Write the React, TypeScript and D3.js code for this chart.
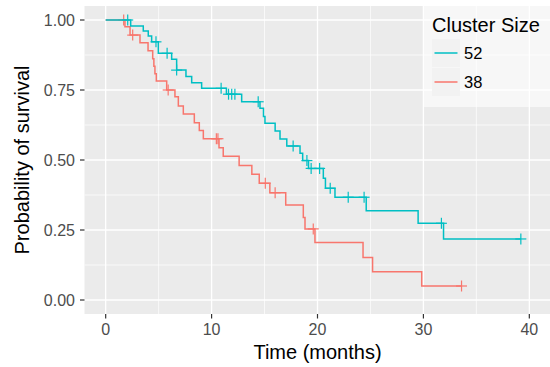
import React from "react";
import * as d3 from "d3";

// ---- data ----
const groups = ["52", "38"];
const colors = ["#00BFC4", "#F8766D"];

const tealTimes = [0, 2.36, 3.55, 4.02, 4.34, 4.97, 6.23, 6.7, 7.58, 8.12, 9.06, 11.4, 12.84, 14.57, 14.9, 15.04, 16.0, 16.46, 17.1, 18.35, 18.6, 19.15, 20.55, 20.75, 21.65, 24.6, 29.5, 31.9];
const tealSurv = [1, 0.979, 0.961, 0.943, 0.922, 0.881, 0.86, 0.821, 0.798, 0.776, 0.756, 0.735, 0.708, 0.685, 0.655, 0.631, 0.604, 0.575, 0.55, 0.524, 0.498, 0.47, 0.435, 0.399, 0.367, 0.319, 0.274, 0.218];
const tealEnd = 39.2;
const tealCensor = [2.08, 4.75, 5.8, 6.7, 10.9, 11.6, 11.9, 12.2, 14.4, 17.7, 19.0, 19.4, 20.2, 21.2, 22.9, 24.4, 31.7, 39.2];

const redTimes = [0, 1.82, 2.3, 3.24, 4.0, 4.44, 4.55, 4.65, 4.78, 5.76, 6.54, 6.86, 7.33, 8.37, 8.84, 9.22, 10.7, 11.1, 12.6, 13.8, 14.5, 15.5, 17.0, 18.66, 18.82, 19.76, 24.3, 25.2, 29.84];
const redSurv = [1, 0.976, 0.946, 0.919, 0.89, 0.862, 0.835, 0.808, 0.782, 0.75, 0.726, 0.693, 0.664, 0.633, 0.605, 0.576, 0.544, 0.513, 0.48, 0.449, 0.417, 0.383, 0.339, 0.295, 0.254, 0.205, 0.152, 0.101, 0.05];
const redEnd = 33.6;
const redCensor = [1.7, 2.55, 5.9, 10.45, 10.6, 15.07, 16.0, 19.6, 33.6];

const xTicks = [0, 10, 20, 30, 40];
const xMinor = [5, 15, 25, 35];
const yTicks = [0, 0.25, 0.5, 0.75, 1];
const yMinor = [0.125, 0.375, 0.625, 0.875];
const yTickLabels = ["0.00", "0.25", "0.50", "0.75", "1.00"];

const W = 550;
const H = 367;
const PL = 84.5, PR = 550.5, PT = 6, PB = 314;
const FONT = "'Liberation Sans', Arial, Helvetica, sans-serif";

const x = d3.scaleLinear().domain([-2, 42]).range([PL, PR]);
const y = d3.scaleLinear().domain([-0.05, 1.05]).range([PB, PT]);

type Pt = [number, number];

function stepPoints(times: number[], surv: number[], end: number): Pt[] {
  const pts: Pt[] = times.map((t, i) => [t, surv[i]] as Pt);
  pts.push([end, surv[surv.length - 1]]);
  return pts;
}

function survAt(times: number[], surv: number[], t: number): number {
  let s = surv[0];
  for (let i = 0; i < times.length; i++) {
    if (times[i] <= t + 1e-9) s = surv[i];
  }
  return s;
}

const line = d3
  .line<Pt>()
  .x((d) => x(d[0]))
  .y((d) => y(d[1]))
  .curve(d3.curveStepAfter);

const series = [
  { name: groups[1], color: colors[1], times: redTimes, surv: redSurv, end: redEnd, censor: redCensor },
  { name: groups[0], color: colors[0], times: tealTimes, surv: tealSurv, end: tealEnd, censor: tealCensor },
];

export default function App() {
  const cs = 5.5;
  return (
    <svg width={W} height={H} style={{ display: "block", position: "absolute", left: 0, top: 0 }} fontFamily={FONT}>
      <rect x={0} y={0} width={W} height={H} fill="white" />
      <rect x={PL} y={PT} width={PR - PL} height={PB - PT} fill="#EBEBEB" />
      {xMinor.map((v) => (
        <line key={"xm" + v} x1={x(v)} x2={x(v)} y1={PT} y2={PB} stroke="white" strokeWidth={0.7} />
      ))}
      {yMinor.map((v) => (
        <line key={"ym" + v} x1={PL} x2={PR} y1={y(v)} y2={y(v)} stroke="white" strokeWidth={0.7} />
      ))}
      {xTicks.map((v) => (
        <line key={"xg" + v} x1={x(v)} x2={x(v)} y1={PT} y2={PB} stroke="white" strokeWidth={1.3} />
      ))}
      {yTicks.map((v) => (
        <line key={"yg" + v} x1={PL} x2={PR} y1={y(v)} y2={y(v)} stroke="white" strokeWidth={1.3} />
      ))}

      {series.map((s) => (
        <g key={s.name}>
          <path d={line(stepPoints(s.times, s.surv, s.end)) || ""} fill="none" stroke={s.color} strokeWidth={1.5} />
          {s.censor.map((t, i) => {
            const cx = x(t);
            const cy = y(survAt(s.times, s.surv, t));
            return (
              <g key={i} stroke={s.color} strokeWidth={1.2}>
                <line x1={cx - cs} x2={cx + cs} y1={cy} y2={cy} />
                <line x1={cx} x2={cx} y1={cy - cs} y2={cy + cs} />
              </g>
            );
          })}
        </g>
      ))}

      {/* axes ticks */}
      {xTicks.map((v) => (
        <g key={"xt" + v}>
          <line x1={x(v)} x2={x(v)} y1={PB} y2={PB + 4.5} stroke="#333333" strokeWidth={1.2} />
          <text x={x(v)} y={334.5} textAnchor="middle" fontSize={16} fill="#4D4D4D">
            {v}
          </text>
        </g>
      ))}
      {yTicks.map((v, i) => (
        <g key={"yt" + v}>
          <line x1={PL - 4.5} x2={PL} y1={y(v)} y2={y(v)} stroke="#333333" strokeWidth={1.2} />
          <text x={75} y={y(v) + 5.7} textAnchor="end" fontSize={16} fill="#4D4D4D">
            {yTickLabels[i]}
          </text>
        </g>
      ))}

      <text x={(PL + PR) / 2} y={359} textAnchor="middle" fontSize={20} fill="black">
        Time (months)
      </text>
      <text
        transform={`translate(29,${(PT + PB) / 2}) rotate(-90)`}
        textAnchor="middle"
        fontSize={20}
        fill="black"
      >
        Probability of survival
      </text>

      {/* legend */}
      <g>
        <rect x={423} y={6} width={127} height={101} fill="white" fillOpacity={0.6} />
        <text x={432} y={31.5} fontSize={20} fill="black">
          Cluster Size
        </text>
        {groups.map((g, i) => {
          const ky = 39 + i * 29;
          return (
            <g key={g}>
              <rect x={432} y={ky} width={28} height={28} fill="#F2F2F2" />
              <line x1={434.5} x2={457.5} y1={ky + 14} y2={ky + 14} stroke={colors[i]} strokeWidth={1.5} />
              <text x={464} y={ky + 20} fontSize={16.5} fill="black">
                {g}
              </text>
            </g>
          );
        })}
      </g>
    </svg>
  );
}
